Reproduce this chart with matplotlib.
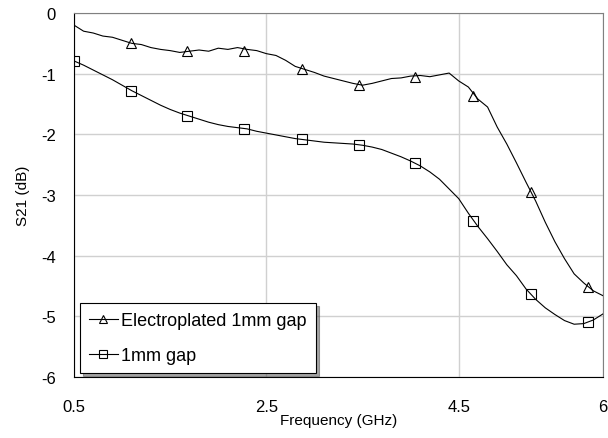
import matplotlib
matplotlib.use('Agg')
import matplotlib.pyplot as plt
from matplotlib.lines import Line2D

plt.rcParams['font.family'] = ['Liberation Sans', 'DejaVu Sans']
plt.rcParams['axes.unicode_minus'] = False

# 曲線資料 (由圖讀取, 0.1 GHz 間隔)
freq = [0.5, 0.6, 0.7, 0.8, 0.9, 1.0, 1.1, 1.2, 1.3, 1.4,
        1.5, 1.6, 1.7, 1.8, 1.9, 2.0, 2.1, 2.2, 2.3, 2.4,
        2.5, 2.6, 2.7, 2.8, 2.9, 3.0, 3.1, 3.2, 3.3, 3.4,
        3.5, 3.6, 3.7, 3.8, 3.9, 4.0, 4.1, 4.2, 4.3, 4.4,
        4.5, 4.6, 4.7, 4.8, 4.9, 5.0, 5.1, 5.2, 5.3, 5.4,
        5.5, 5.6, 5.7, 5.8, 5.9, 6.0]

s21_plated = [-0.20, -0.30, -0.33, -0.38, -0.40, -0.45, -0.50, -0.52, -0.57, -0.60,
              -0.62, -0.65, -0.63, -0.61, -0.63, -0.58, -0.60, -0.57, -0.60, -0.62,
              -0.67, -0.70, -0.78, -0.88, -0.93, -0.98, -1.04, -1.08, -1.12, -1.16,
              -1.19, -1.16, -1.12, -1.08, -1.07, -1.04, -1.03, -1.05, -1.02, -0.99,
              -1.12, -1.22, -1.42, -1.55, -1.88, -2.16, -2.47, -2.79, -3.10, -3.45,
              -3.77, -4.05, -4.30, -4.45, -4.58, -4.66]

s21_gap = [-0.79, -0.86, -0.94, -1.02, -1.10, -1.19, -1.28, -1.36, -1.44, -1.52,
           -1.59, -1.65, -1.70, -1.75, -1.80, -1.84, -1.87, -1.89, -1.91, -1.95,
           -1.98, -2.01, -2.04, -2.07, -2.09, -2.11, -2.13, -2.14, -2.15, -2.16,
           -2.18, -2.21, -2.25, -2.31, -2.37, -2.44, -2.52, -2.62, -2.74, -2.90,
           -3.06, -3.30, -3.52, -3.72, -3.93, -4.15, -4.33, -4.55, -4.72, -4.86,
           -4.97, -5.07, -5.13, -5.12, -5.06, -4.96]

# 標記點 (marker) 位置
mark_freq_plated = [1.09, 1.68, 2.27, 2.87, 3.46, 4.05, 4.65, 5.25, 5.84]
mark_plated = [-0.50, -0.63, -0.62, -0.92, -1.19, -1.05, -1.37, -2.95, -4.51]
mark_freq_gap = [0.5, 1.09, 1.68, 2.27, 2.87, 3.46, 4.05, 4.65, 5.25, 5.84]
mark_gap = [-0.79, -1.28, -1.69, -1.91, -2.08, -2.17, -2.48, -3.43, -4.63, -5.09]

x_ticks = [0.5, 2.5, 4.5, 6]
x_tick_labels = ['0.5', '2.5', '4.5', '6']
y_ticks = [0, -1, -2, -3, -4, -5, -6]

fig = plt.figure(figsize=(6.08, 4.39), dpi=100)
ax = fig.add_axes([74/608, 1 - 378/439, 529/608, 364/439])

ax.plot(freq, s21_plated, color='black', lw=0.8)
ax.plot(freq, s21_gap, color='black', lw=0.8)
ax.plot(mark_freq_plated, mark_plated, ls='none', marker='^', ms=7,
        mfc='none', mec='black', mew=0.8)
ax.plot(mark_freq_gap, mark_gap, ls='none', marker='s', ms=7,
        mfc='none', mec='black', mew=0.8)

ax.set_xlim(0.5, 6)
ax.set_ylim(-6, 0)
ax.set_xticks(x_ticks)
ax.set_xticklabels(x_tick_labels)
ax.set_yticks(y_ticks)
ax.grid(True, color='#d0d0d0', lw=1)
ax.set_axisbelow(True)
ax.tick_params(length=0, labelsize=12)
ax.tick_params(axis='x', pad=16)
ax.tick_params(axis='y', pad=13)

ax.spines['left'].set_color('black')
ax.spines['bottom'].set_color('black')
ax.spines['top'].set_color('#808080')
ax.spines['right'].set_color('#808080')

ax.set_xlabel('Frequency (GHz)', fontsize=11, labelpad=-1)
ax.set_ylabel('S21 (dB)', fontsize=11, labelpad=8)

handles = [
    Line2D([], [], color='black', lw=0.8, marker='^', ms=6, mfc='none', mew=0.8),
    Line2D([], [], color='black', lw=0.8, marker='s', ms=6, mfc='none', mew=0.8),
]
leg = ax.legend(handles, ['Electroplated 1mm gap', '1mm gap'], loc='lower left',
                bbox_to_anchor=(0.004, 0.0), fontsize=13, frameon=True,
                fancybox=False, shadow=True, edgecolor='black', framealpha=1,
                handlelength=1.6, handletextpad=0.2, borderpad=0.5,
                labelspacing=1.0, borderaxespad=0.2)
leg.get_frame().set_linewidth(0.8)

fig.savefig('out.png', dpi=100)
